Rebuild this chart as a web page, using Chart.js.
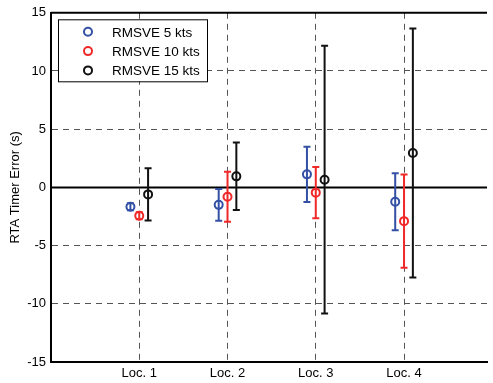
<!DOCTYPE html>
<html>
<head>
<meta charset="utf-8">
<script src="https://cdn.jsdelivr.net/npm/chart.js@4.4.1/dist/chart.umd.min.js"></script>
<style>
  html, body { margin: 0; padding: 0; background: #fff; }
</style>
</head>
<body>
<canvas id="errChart" width="493" height="383"></canvas>
<script>
const locations = ["Loc. 1", "Loc. 2", "Loc. 3", "Loc. 4"];
const seriesNames = ["RMSVE 5 kts", "RMSVE 10 kts", "RMSVE 15 kts"];
const mean5 = [-1.67, -1.5, 1.12, -1.24];
const err5 = [0.3, 1.36, 2.37, 2.45];
const mean10 = [-2.44, -0.8, -0.45, -2.9];
const err10 = [0.3, 2.15, 2.2, 4.0];
const mean15 = [-0.6, 0.95, 0.66, 2.96];
const err15 = [2.25, 2.9, 11.5, 10.7];
const yTicks = [-15, -10, -5, 0, 5, 10, 15];

const colors = ["#3350a5", "#f02828", "#111111"];
const font = "'Liberation Sans', Arial, sans-serif";

// series sit a little left / right of each location
function points(means, shift) {
  return means.map((m, i) => ({ x: i + 1 + shift, y: m }));
}

const errorBars = {
  id: "errorBars",
  beforeDatasetsDraw(chart) {
    const { ctx, chartArea, scales: { x, y } } = chart;
    ctx.save();
    ctx.setLineDash([]);
    ctx.strokeStyle = "#000";
    ctx.lineWidth = 2;
    ctx.beginPath();
    ctx.moveTo(chartArea.left, chartArea.top);
    ctx.lineTo(chartArea.right, chartArea.top);
    const y0 = y.getPixelForValue(0);
    ctx.moveTo(chartArea.left, y0);
    ctx.lineTo(chartArea.right, y0);
    ctx.stroke();

    chart.data.datasets.forEach((ds) => {
      ctx.strokeStyle = ds.borderColor;
      ctx.lineWidth = 2;
      ds.data.forEach((p, i) => {
        const px = x.getPixelForValue(p.x);
        const top = y.getPixelForValue(p.y + ds.errors[i]);
        const bot = y.getPixelForValue(p.y - ds.errors[i]);
        ctx.beginPath();
        ctx.moveTo(px, top);
        ctx.lineTo(px, bot);
        ctx.moveTo(px - 3.5, top);
        ctx.lineTo(px + 3.5, top);
        ctx.moveTo(px - 3.5, bot);
        ctx.lineTo(px + 3.5, bot);
        ctx.stroke();
      });
    });
    ctx.restore();
  },
  afterDraw(chart) {
    const { ctx, chartArea } = chart;
    const bx = chartArea.left + 7;
    const by = chartArea.top + 6.5;
    ctx.save();
    ctx.fillStyle = "#fff";
    ctx.fillRect(bx, by, 149, 62);
    ctx.strokeStyle = "#000";
    ctx.lineWidth = 1;
    ctx.strokeRect(bx + 0.5, by + 0.5, 149, 62);
    ctx.font = "13.5px " + font;
    ctx.textBaseline = "middle";
    chart.data.datasets.forEach((ds, i) => {
      const ry = by + 12.5 + i * 19.3;
      ctx.strokeStyle = ds.borderColor;
      ctx.lineWidth = 2;
      ctx.beginPath();
      ctx.arc(bx + 30, ry, 4, 0, Math.PI * 2);
      ctx.stroke();
      ctx.fillStyle = "#000";
      ctx.fillText(ds.label, bx + 54, ry + 1);
    });
    ctx.restore();
  },
};

function makeSet(i, means, errs, shift) {
  return {
    label: seriesNames[i],
    data: points(means, shift),
    errors: errs,
    borderColor: colors[i],
    backgroundColor: "rgba(0,0,0,0)",
    pointRadius: 4,
    pointBorderWidth: 2,
    showLine: false,
  };
}

new Chart(document.querySelector("#errChart"), {
  type: "scatter",
  data: {
    datasets: [
      makeSet(0, mean5, err5, -0.1),
      makeSet(1, mean10, err10, 0),
      makeSet(2, mean15, err15, 0.1),
    ],
  },
  options: {
    responsive: false,
    animation: false,
    devicePixelRatio: 1,
    layout: { padding: { top: 10, right: 0, left: 0, bottom: 0 } },
    plugins: {
      legend: { display: false },
      tooltip: { enabled: false },
    },
    scales: {
      x: {
        type: "linear",
        min: 0,
        max: 4.94,
        afterBuildTicks: (s) => {
          s.ticks = locations.map((_, i) => ({ value: i + 1 }));
        },
        afterFit: (s) => {
          s.height = 21;
        },
        ticks: {
          color: "#000",
          padding: 4,
          font: { family: font, size: 13 },
          callback: (v) => locations[Math.round(v) - 1] || "",
        },
        grid: { color: "#555", drawTicks: false, lineWidth: 1 },
        border: { display: true, color: "#000", width: 2, dash: [6, 5] },
      },
      y: {
        min: -15,
        max: 15,
        afterBuildTicks: (s) => {
          s.ticks = yTicks.map((v) => ({ value: v }));
        },
        afterFit: (s) => {
          s.width = 51;
        },
        ticks: {
          color: "#000",
          padding: 5,
          font: { family: font, size: 13 },
        },
        grid: {
          color: (c) =>
            c.tick && (Math.abs(c.tick.value) === 15 || c.tick.value === 0)
              ? "rgba(0,0,0,0)"
              : "#555",
          drawTicks: false,
          lineWidth: 1,
        },
        border: { display: true, color: "#000", width: 2, dash: [6, 5] },
        title: {
          display: true,
          text: "RTA Timer Error (s)",
          color: "#000",
          font: { family: font, size: 13 },
          padding: { top: 8, bottom: 0 },
        },
      },
    },
  },
  plugins: [errorBars],
});
</script>
</body>
</html>
